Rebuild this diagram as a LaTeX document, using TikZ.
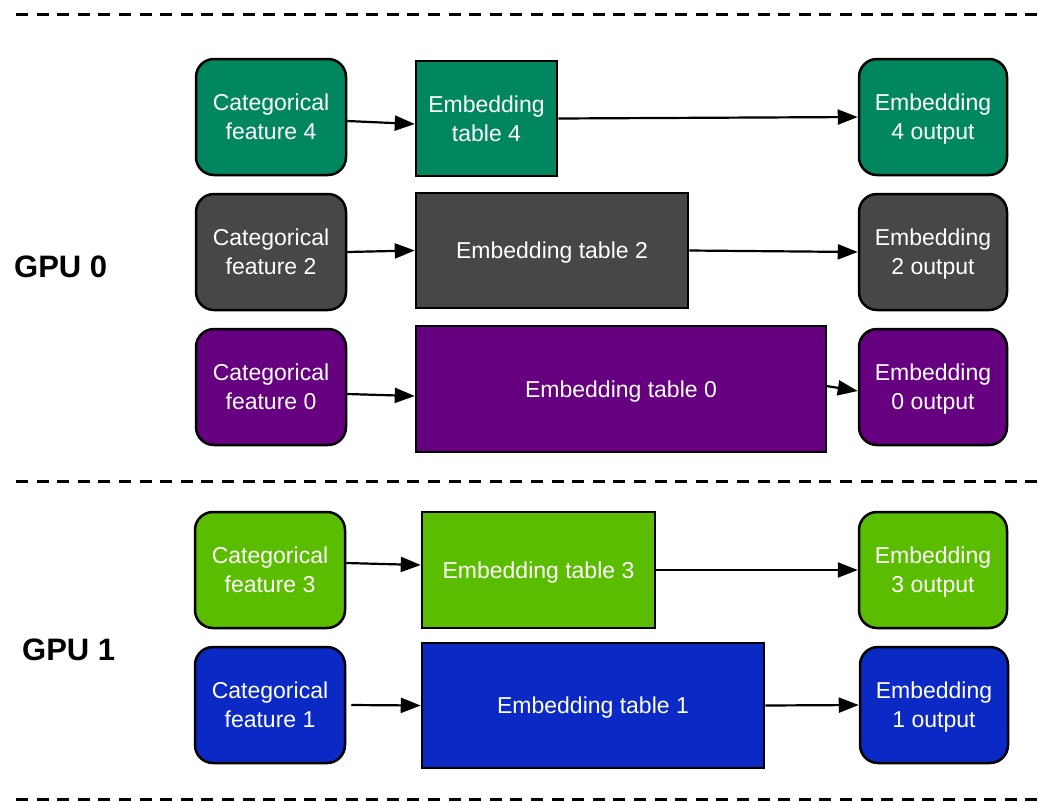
\documentclass[tikz,border=0pt]{standalone}
\usepackage{fontspec}
\setmainfont{Liberation Sans}
\usetikzlibrary{arrows.meta}

\definecolor{cteal}{HTML}{00875F}
\definecolor{cgrey}{HTML}{474747}
\definecolor{cpurple}{HTML}{660080}
\definecolor{cgreen}{HTML}{5BBD00}
\definecolor{cblue}{HTML}{0B29C4}

\tikzset{
  boxtext/.style={text=white, align=center, inner sep=0pt, text depth=0pt,
    font=\fontsize{23}{29}\selectfont},
  feat/.style={boxtext, draw=black, line width=2.5pt, rounded corners=18pt,
    minimum width=150pt, minimum height=116pt, fill=#1},
  outbox/.style={boxtext, draw=black, line width=2.5pt, rounded corners=18pt,
    minimum width=148pt, minimum height=116pt, fill=#1},
  tablebox/.style={boxtext, draw=black, line width=2.5pt, fill=#1},
  flow/.style={line width=2.2pt, -{Triangle[length=20pt,width=15pt]}},
  sep/.style={line width=3pt, dash pattern=on 12pt off 8.6pt},
  gpu/.style={font=\fontsize{31}{36}\selectfont\bfseries, inner sep=0pt}
}

\begin{document}
\begin{tikzpicture}[x=1pt,y=-1pt]
\useasboundingbox (0,0) rectangle (1038,801);

% separators
\coordinate (s1l) at (16,14);  \coordinate (s1r) at (1038,14);
\coordinate (s2l) at (16,481); \coordinate (s2r) at (1038,481);
\coordinate (s3l) at (16,799); \coordinate (s3r) at (1038,799);
\draw[sep] (s1l) -- (s1r);
\draw[sep] (s2l) -- (s2r);
\draw[sep] (s3l) -- (s3r);

% GPU labels
\node[gpu, anchor=west] (gpu0) at (14,267) {GPU 0};
\node[gpu, anchor=west] (gpu1) at (22,650) {GPU 1};

% GPU 0 rows
\node[feat=cteal] (cat4) at (271,117) {Categorical\\feature 4};
\node[tablebox=cteal, minimum width=141pt, minimum height=115pt] (tab4) at (486.5,118.5) {Embedding\\table 4};
\node[outbox=cteal] (out4) at (933,117) {Embedding\\4 output};

\node[feat=cgrey] (cat2) at (271,252) {Categorical\\feature 2};
\node[tablebox=cgrey, minimum width=272pt, minimum height=115pt] (tab2) at (552,250.5) {Embedding table 2};
\node[outbox=cgrey] (out2) at (933,252) {Embedding\\2 output};

\node[feat=cpurple] (cat0) at (271,387) {Categorical\\feature 0};
\node[tablebox=cpurple, minimum width=410pt, minimum height=126pt] (tab0) at (621,389) {Embedding table 0};
\node[outbox=cpurple] (out0) at (933,387) {Embedding\\0 output};

% GPU 1 rows
\node[feat=cgreen] (cat3) at (270,570) {Categorical\\feature 3};
\node[tablebox=cgreen, minimum width=233pt, minimum height=116pt] (tab3) at (538.5,570) {Embedding table 3};
\node[outbox=cgreen] (out3) at (933,570) {Embedding\\3 output};

\node[feat=cblue] (cat1) at (270,705) {Categorical\\feature 1};
\node[tablebox=cblue, minimum width=342pt, minimum height=125pt] (tab1) at (593,705.5) {Embedding table 1};
\node[outbox=cblue] (out1) at (934,705) {Embedding\\1 output};

% connectors (yshift is in canvas units: negative moves down the page)
\draw[flow] ([yshift=-4pt]cat4.east) -- ([yshift=-5.5pt]tab4.west);
\draw[flow] (tab4.east) -- (out4.west);
\draw[flow] (cat2.east) -- (tab2.west);
\draw[flow] (tab2.east) -- (out2.west);
\draw[flow] ([yshift=-7pt]cat0.east) -- ([yshift=-7pt]tab0.west);
\draw[flow] ([yshift=3pt,xshift=-1pt]tab0.east) -- ([yshift=-4pt]out0.west);
\draw[flow] ([yshift=7pt]cat3.east) -- ([yshift=5pt]tab3.west);
\draw[flow] (tab3.east) -- (out3.west);
\draw[flow] ([xshift=5pt]cat1.east) -- (tab1.west);
\draw[flow] (tab1.east) -- (out1.west);
\end{tikzpicture}
\end{document}
